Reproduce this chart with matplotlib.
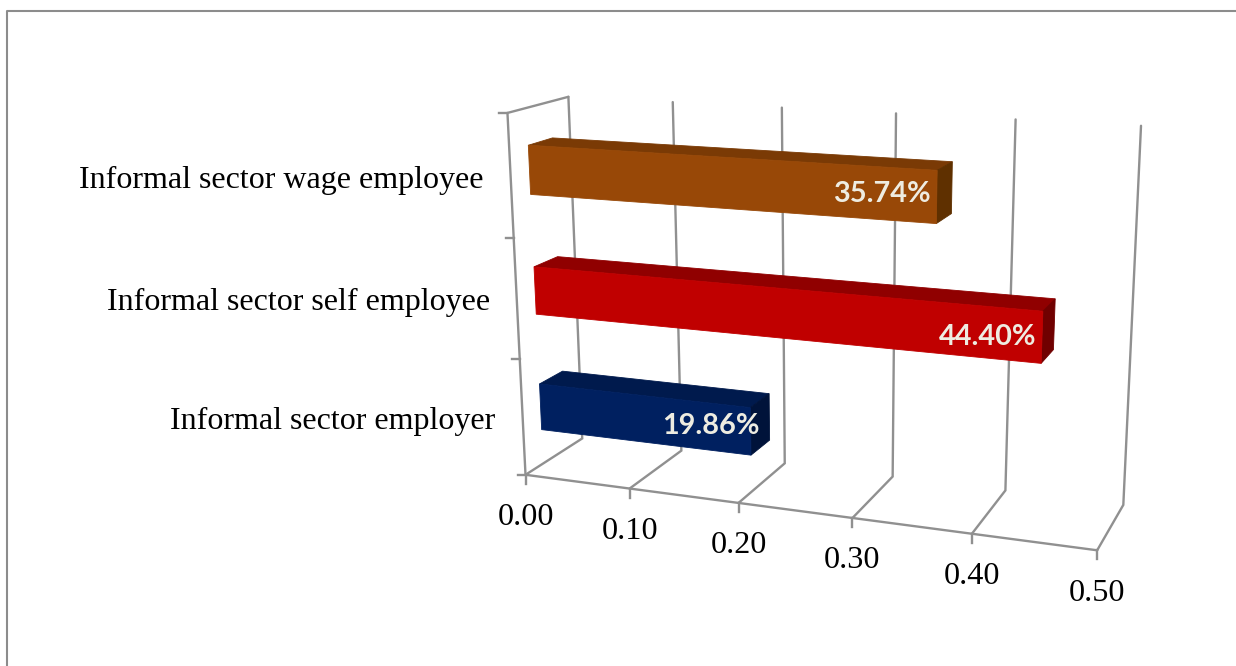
# -*- coding: utf-8 -*-
import numpy as np
import matplotlib
matplotlib.use('Agg')
import matplotlib.pyplot as plt
from matplotlib.patches import Polygon

categories = ['Informal sector employer', 'Informal sector self employee', 'Informal sector wage employee']
shares = [19.86, 44.40, 35.74]
x_ticks = [0.0, 0.1, 0.2, 0.3, 0.4, 0.5]

face_colors = ['#002060', '#C00000', '#984807']
top_colors = ['#001A4D', '#900000', '#7A3A05']
side_colors = ['#00133A', '#700000', '#5F3000']
label_dx = [-1, -12, -14]
label_dy = [2, 6, 2]

GRID = '#909090'
W, H = 1236, 666

# camera for the 3D box: (value, depth, height) -> pixel, fitted on the box corners
box_pts = [(0, 0, 0), (.1, 0, 0), (.2, 0, 0), (.4, 0, 0), (.5, 0, 0), (.2, 1, 0), (.4, 1, 0), (.5, 1, 0),
           (0, 1, 1), (.1, 1, 1), (.2, 1, 1), (.3, 1, 1), (.4, 1, 1), (.5, 1, 1), (0, 0, 1)]
box_px = [(525.7, 474.3), (629.3, 489), (738.3, 503.3), (972.3, 533.3), (1097.3, 550), (785, 463.3), (1005, 490.7),
          (1123.3, 505), (568.7, 96.7), (672.7, 101.7), (781.7, 107.7), (896, 113.3), (1015.7, 119.3), (1141, 126),
          (507.3, 113.3)]


def fit_camera(pts, px):
    rows, rhs = [], []
    for (a, b, c), (u, v) in zip(pts, px):
        rows.append([a, b, c, 1, 0, 0, 0, 0, -u * a, -u * b, -u * c])
        rows.append([0, 0, 0, 0, a, b, c, 1, -v * a, -v * b, -v * c])
        rhs += [u, v]
    m = np.linalg.lstsq(np.array(rows), np.array(rhs), rcond=None)[0]
    return np.append(m, 1).reshape(3, 4)


cam = fit_camera(box_pts, box_px)


def project(val, depth, height):
    p = cam @ np.array([val, depth, height, 1.0])
    return p[0] / p[2], p[1] / p[2]


def line3d(ax, *pts):
    xy = np.array([project(*p) for p in pts])
    ax.plot(xy[:, 0], xy[:, 1], color=GRID, lw=1.7, solid_capstyle='round', solid_joinstyle='miter', zorder=1)


def poly3d(ax, pts, color):
    ax.add_patch(Polygon([project(*p) for p in pts], closed=True, facecolor=color, edgecolor=color, lw=0.6, zorder=3))


fig = plt.figure(figsize=(W / 100, H / 100), dpi=100)
ax = fig.add_axes([0, 0, 1, 1])
ax.set_xlim(0, W)
ax.set_ylim(H, 0)
ax.axis('off')

# chart border, only top and left are in frame
ax.plot([6.5, 6.5, W], [H, 10.5, 10.5], color='#8C8C8C', lw=1.5, zorder=1)

vmax = x_ticks[-1]
line3d(ax, (0, 0, 0), (vmax, 0, 0))
line3d(ax, (0, 0, 0), (0, 0, 1), (0, 1, 1))
for v in x_ticks:
    line3d(ax, (v, 0, 0), (v, 1, 0), (v, 1, 1))
    x, y = project(v, 0, 0)
    ax.plot([x, x], [y, y + 9], color=GRID, lw=1.7, zorder=1)
    ax.text(x, y + 43, '%.2f' % v, ha='center', va='center', fontsize=23.2,
            family='Liberation Serif', color='black')

n = len(categories)
for i in range(n + 1):
    x, y = project(0, 0, i / n)
    ax.plot([x - 8, x], [y, y], color=GRID, lw=1.7, zorder=1)

# bars take 40% of their slot, with the same share of the box depth
d0, d1 = 0.3, 0.7
for i in range(n):
    h0 = (i + 0.3) / n
    h1 = (i + 0.7) / n
    v = shares[i] / 100
    poly3d(ax, [(0, d0, h1), (v, d0, h1), (v, d1, h1), (0, d1, h1)], top_colors[i])
    poly3d(ax, [(v, d0, h0), (v, d1, h0), (v, d1, h1), (v, d0, h1)], side_colors[i])
    poly3d(ax, [(0, d0, h0), (v, d0, h0), (v, d0, h1), (0, d0, h1)], face_colors[i])

    x, y = project(v, 0.5, 0.5 * (h0 + h1))
    ax.text(x + label_dx[i], y + label_dy[i], '%.2f%%' % shares[i], ha='right', va='center', fontsize=20.8,
            fontweight='bold', family='Lato', color='#EEECE1', zorder=4)

    x, y = project(0, 0, (i + 0.5) / n)
    ax.text(x - 27, y + 4, categories[i], ha='right', va='center', fontsize=23,
            family='Liberation Serif', color='black')

fig.savefig('out.png', dpi=100, facecolor='white')
